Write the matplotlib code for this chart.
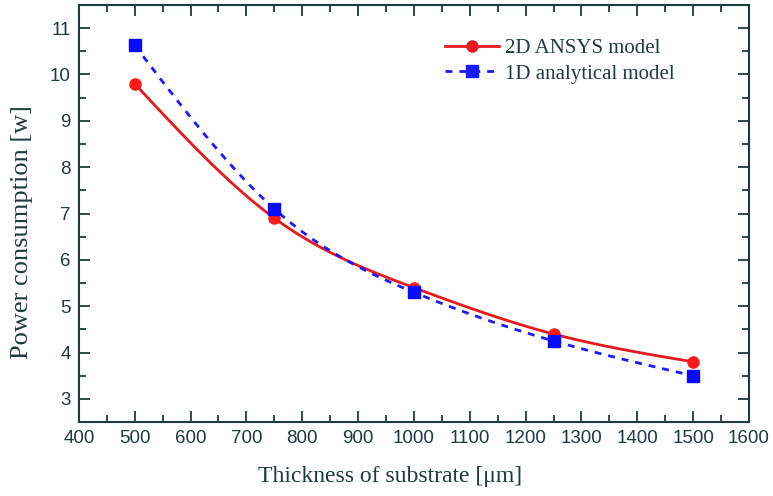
import numpy as np
import matplotlib.pyplot as plt
from matplotlib.ticker import MultipleLocator

thickness = [500, 750, 1000, 1250, 1500]
power_2d = [9.8, 6.9, 5.4, 4.4, 3.8]
power_1d = [10.63, 7.1, 5.3, 4.25, 3.5]

AX_COLOR = "#1f3b3b"


def natural_spline(x, y, n=200):
    # plain natural cubic spline, no scipy needed
    x = np.asarray(x, float)
    y = np.asarray(y, float)
    k = len(x)
    h = np.diff(x)
    A = np.zeros((k, k))
    b = np.zeros(k)
    A[0, 0] = A[-1, -1] = 1
    for i in range(1, k - 1):
        A[i, i - 1] = h[i - 1]
        A[i, i] = 2 * (h[i - 1] + h[i])
        A[i, i + 1] = h[i]
        b[i] = 3 * ((y[i + 1] - y[i]) / h[i] - (y[i] - y[i - 1]) / h[i - 1])
    c = np.linalg.solve(A, b)
    xs = np.linspace(x[0], x[-1], n)
    idx = np.clip(np.searchsorted(x, xs) - 1, 0, k - 2)
    dx = xs - x[idx]
    bb = (y[idx + 1] - y[idx]) / h[idx] - h[idx] * (2 * c[idx] + c[idx + 1]) / 3
    d = (c[idx + 1] - c[idx]) / (3 * h[idx])
    ys = y[idx] + bb * dx + c[idx] * dx ** 2 + d * dx ** 3
    return xs, ys


def main():
    fig = plt.figure(figsize=(7.73, 4.96), dpi=100)
    ax = fig.add_axes([0.102, 0.149, 0.867, 0.841])

    xs, ys = natural_spline(thickness, power_2d)
    ax.plot(xs, ys, color="#e8191c", lw=2)
    ax.plot(thickness, power_2d, "o", color="#ff1a1a", ms=8, ls="none")
    xs, ys = natural_spline(thickness, power_1d)
    ax.plot(xs, ys, color="#1a1aff", lw=2, ls=(0, (2.5, 2.5)))
    ax.plot(thickness, power_1d, "s", color="#0a0aff", ms=8, ls="none")

    # legend proxies
    ax.plot([], [], color="#e8191c", lw=2, marker="o", ms=8, label="2D ANSYS model")
    ax.plot([], [], color="#1a1aff", lw=2, ls=(0, (2.5, 2.5)), marker="s", ms=8,
            label="1D analytical model")
    leg = ax.legend(loc="upper left", bbox_to_anchor=(0.518, 0.965), frameon=False,
                    prop={"family": "Liberation Serif", "size": 15}, handlelength=2.6,
                    labelspacing=0.3, handletextpad=0.3)
    for t in leg.get_texts():
        t.set_color(AX_COLOR)

    ax.set_xlim(400, 1600)
    ax.set_ylim(2.5, 11.5)
    ax.xaxis.set_major_locator(MultipleLocator(100))
    ax.xaxis.set_minor_locator(MultipleLocator(50))
    ax.yaxis.set_major_locator(MultipleLocator(1))
    ax.yaxis.set_minor_locator(MultipleLocator(0.5))
    ax.tick_params(which="both", direction="in", top=True, right=True,
                   color=AX_COLOR, width=1.3)
    ax.tick_params(which="major", length=8, labelsize=13.5, labelcolor=AX_COLOR, pad=6)
    ax.tick_params(which="minor", length=5)
    for lab in ax.get_xticklabels() + ax.get_yticklabels():
        lab.set_family("Liberation Sans")
    for s in ax.spines.values():
        s.set_color(AX_COLOR)
        s.set_linewidth(1.5)

    ax.set_xlabel("Thickness of substrate [μm]", fontfamily="Liberation Serif",
                  fontsize=17, color=AX_COLOR)
    ax.set_ylabel("Power consumption [w]", fontfamily="Liberation Serif",
                  fontsize=19, color=AX_COLOR)
    ax.xaxis.set_label_coords(0.464, -0.105)
    ax.yaxis.set_label_coords(-0.068, 0.455)

    fig.savefig("out.png", dpi=100)
    plt.close(fig)


if __name__ == "__main__":
    main()
